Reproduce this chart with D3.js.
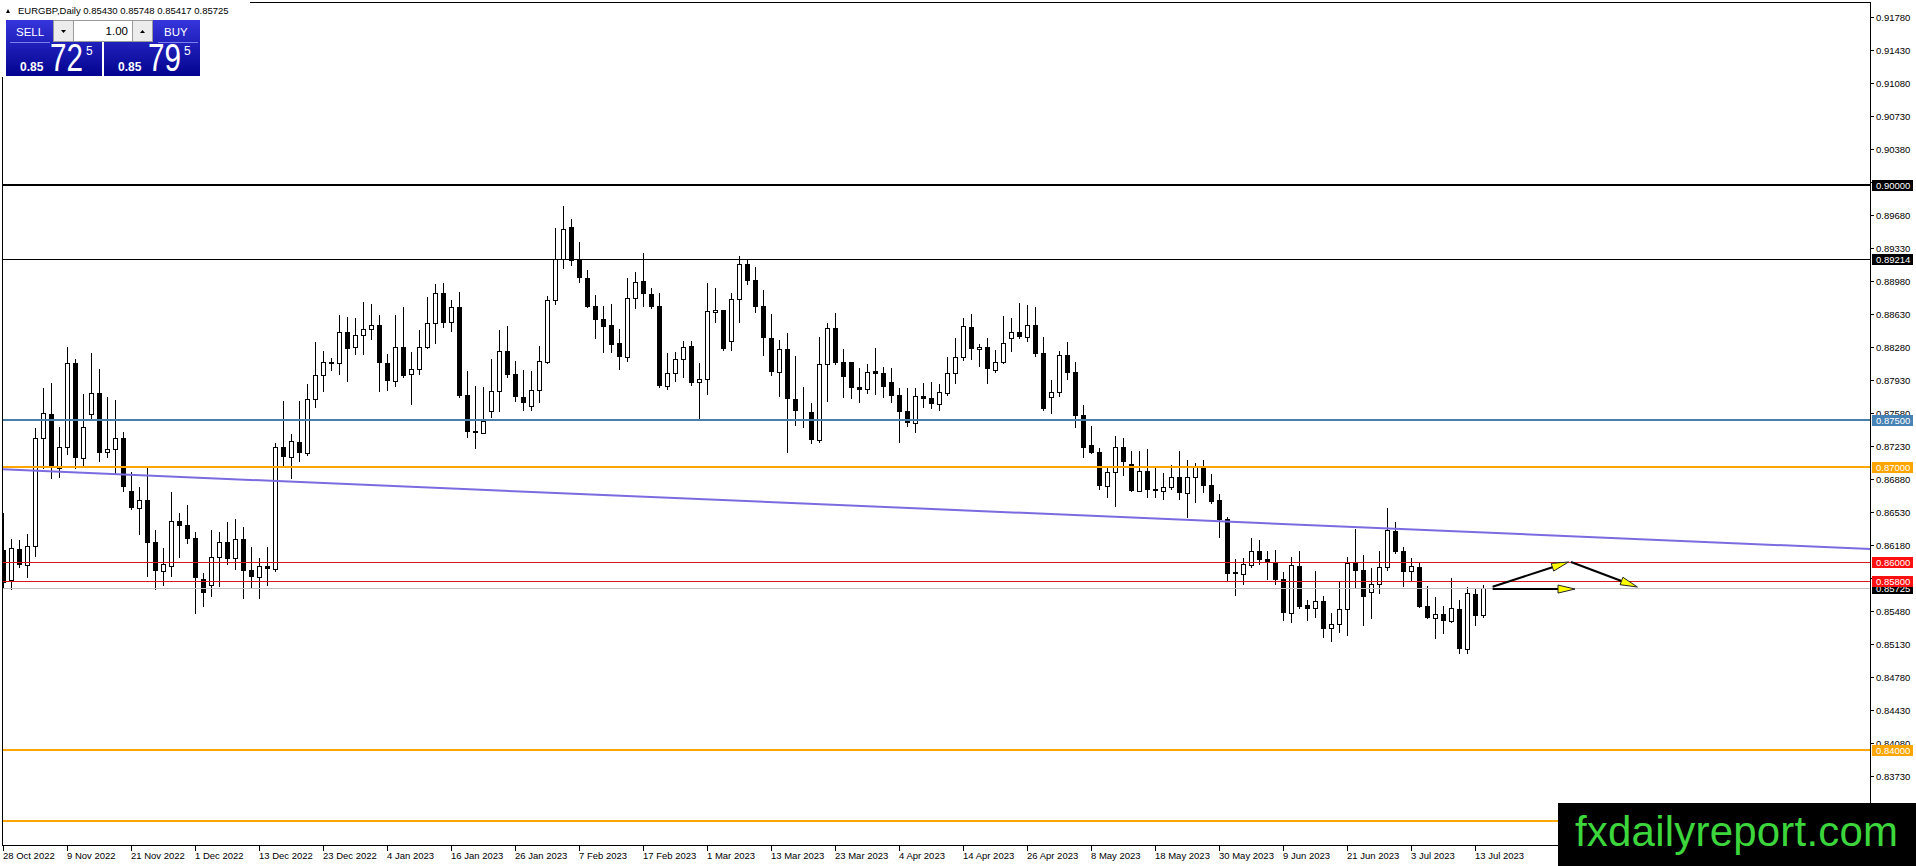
<!DOCTYPE html>
<html>
<head>
<meta charset="utf-8">
<script src="https://d3js.org/d3.v7.min.js"></script>
<style>
  body { margin: 0; background: #fff; }
  svg { display: block; font-family: "Liberation Sans", Arial, sans-serif; }
</style>
</head>
<body>
<svg id="canvas" width="1916" height="866"></svg>
<script>
// ************************************************************************************** //
// Data (EURGBP daily, 28 Oct 2022 .. 14 Jul 2023)

var symbol = 'EURGBP,Daily';

var open_ = [
  0.86124,0.85806,0.86131,0.85965,0.86166,0.87308,0.87563,0.86990,0.87220,0.88103,
  0.87103,0.87563,0.87785,0.87160,0.87195,0.87308,0.86749,0.86573,0.86654,0.86212,
  0.85905,0.85958,0.86432,0.86389,0.86248,0.85813,0.85753,0.86053,0.86205,0.86035,
  0.86237,0.85912,0.85841,0.85954,0.85919,0.87219,0.87106,0.87272,0.87149,0.87721,
  0.87976,0.88110,0.88103,0.88435,0.88273,0.88400,0.88471,0.88506,0.88103,0.87919,
  0.88280,0.87990,0.88040,0.88280,0.88527,0.88845,0.88545,0.88704,0.87767,0.87382,
  0.87368,0.87601,0.87813,0.88235,0.87987,0.87747,0.87655,0.87817,0.88115,0.88772,
  0.89207,0.89546,0.89203,0.89005,0.88712,0.88574,0.88510,0.88316,0.88174,0.88800,
  0.88977,0.88839,0.88712,0.87867,0.87998,0.88146,0.88288,0.87902,0.87934,0.88645,
  0.88670,0.88341,0.88783,0.89154,0.88985,0.88711,0.88368,0.88008,0.88255,0.87721,
  0.87605,0.87583,0.87290,0.88092,0.88474,0.88114,0.88114,0.87852,0.87827,0.88022,
  0.87997,0.87902,0.87767,0.87598,0.87474,0.87757,0.87732,0.87675,0.87792,0.87997,
  0.88174,0.88485,0.88252,0.88273,0.88033,0.88121,0.88368,0.88432,0.88379,0.88510,
  0.88209,0.87743,0.87796,0.88192,0.88008,0.87555,0.87237,0.87160,0.86806,0.86947,
  0.87213,0.87032,0.86753,0.86961,0.86767,0.86753,0.86788,0.86894,0.86725,0.86901,
  0.86997,0.86813,0.86654,0.86449,0.85887,0.85869,0.85965,0.86113,0.86025,0.85989,
  0.85813,0.85459,0.85954,0.85540,0.85505,0.85583,0.85293,0.85335,0.85498,0.85989,
  0.85912,0.85681,0.85760,0.85940,0.86329,0.86113,0.85905,0.85947,0.85530,0.85399,
  0.85441,0.85371,0.85495,0.85077,0.85654,0.85430
];
var high = [
  0.86513,0.86237,0.86230,0.86294,0.87414,0.87838,0.87898,0.87425,0.88280,0.88146,
  0.87778,0.88210,0.88040,0.87743,0.87715,0.87372,0.86955,0.86788,0.86997,0.86336,
  0.86142,0.86735,0.86513,0.86601,0.86318,0.85884,0.86336,0.86318,0.86417,0.86449,
  0.86371,0.86159,0.86035,0.86159,0.87262,0.87704,0.87354,0.87704,0.87884,0.88329,
  0.88237,0.88156,0.88616,0.88591,0.88580,0.88750,0.88732,0.88616,0.88202,0.88616,
  0.88697,0.88220,0.88457,0.88803,0.88944,0.88959,0.88775,0.88860,0.88022,0.87863,
  0.87856,0.88146,0.88457,0.88500,0.88129,0.88033,0.88023,0.88288,0.88818,0.89543,
  0.89772,0.89634,0.89394,0.89094,0.88829,0.88712,0.88733,0.88464,0.89005,0.89076,
  0.89270,0.88899,0.88846,0.88210,0.88228,0.88341,0.88341,0.88104,0.88952,0.88899,
  0.88670,0.88853,0.89242,0.89207,0.89125,0.88881,0.88626,0.88350,0.88421,0.88181,
  0.87856,0.87679,0.88379,0.88527,0.88640,0.88255,0.88114,0.88050,0.88096,0.88262,
  0.88061,0.88050,0.87838,0.87838,0.87838,0.87891,0.87902,0.87880,0.88174,0.88368,
  0.88580,0.88626,0.88308,0.88368,0.88245,0.88605,0.88580,0.88747,0.88722,0.88697,
  0.88379,0.87927,0.88238,0.88333,0.88121,0.87661,0.87439,0.87202,0.86990,0.87336,
  0.87308,0.87174,0.87174,0.87195,0.86990,0.86937,0.87025,0.87174,0.87078,0.87043,
  0.87078,0.86926,0.86714,0.86477,0.86025,0.86035,0.86247,0.86230,0.86113,0.86124,
  0.85894,0.86046,0.86113,0.85594,0.85901,0.85636,0.85459,0.85788,0.86053,0.86346,
  0.86071,0.85929,0.86113,0.86566,0.86417,0.86159,0.86035,0.85989,0.85742,0.85629,
  0.85530,0.85823,0.85594,0.85735,0.85724,0.85748
];
var low = [
  0.85717,0.85707,0.85940,0.85834,0.86064,0.86990,0.86891,0.86902,0.87142,0.86990,
  0.87008,0.87503,0.87071,0.87114,0.86937,0.86749,0.86559,0.86294,0.85848,0.85707,
  0.85753,0.85848,0.86053,0.86195,0.85459,0.85530,0.85636,0.85742,0.85972,0.85919,
  0.85611,0.85720,0.85611,0.85752,0.85904,0.87014,0.86891,0.87071,0.87131,0.87644,
  0.87813,0.88032,0.87990,0.87919,0.88202,0.88202,0.88365,0.87813,0.87820,0.87866,
  0.87955,0.87672,0.87990,0.88262,0.88315,0.88485,0.88450,0.87750,0.87325,0.87202,
  0.87361,0.87531,0.87601,0.87962,0.87704,0.87609,0.87609,0.87697,0.88104,0.88730,
  0.89111,0.89147,0.88963,0.88705,0.88369,0.88220,0.88220,0.88044,0.88132,0.88687,
  0.88715,0.88687,0.87856,0.87832,0.87920,0.87962,0.87874,0.87528,0.87775,0.88546,
  0.88245,0.88245,0.88546,0.88942,0.88645,0.88191,0.87979,0.87760,0.87166,0.87449,
  0.87431,0.87262,0.87272,0.87707,0.88096,0.87750,0.87739,0.87697,0.87785,0.87778,
  0.87750,0.87697,0.87272,0.87442,0.87371,0.87637,0.87626,0.87608,0.87767,0.87898,
  0.88139,0.88146,0.88075,0.87898,0.88008,0.88103,0.88238,0.88375,0.88344,0.88181,
  0.87608,0.87580,0.87760,0.87937,0.87432,0.87114,0.87149,0.86771,0.86689,0.86594,
  0.86919,0.86753,0.86753,0.86682,0.86689,0.86665,0.86767,0.86665,0.86470,0.86636,
  0.86742,0.86626,0.86265,0.85805,0.85646,0.85763,0.85940,0.85975,0.85813,0.85763,
  0.85381,0.85364,0.85505,0.85381,0.85417,0.85198,0.85162,0.85258,0.85222,0.85728,
  0.85328,0.85406,0.85664,0.85912,0.86088,0.85742,0.85795,0.85516,0.85399,0.85187,
  0.85240,0.85364,0.85028,0.85035,0.85328,0.85417
];
var close = [
  0.85771,0.86142,0.85965,0.86166,0.87308,0.87573,0.86990,0.87220,0.88103,0.87103,
  0.87432,0.87785,0.87156,0.87195,0.87308,0.86795,0.86573,0.86654,0.86202,0.85905,
  0.85972,0.86432,0.86382,0.86241,0.85824,0.85672,0.86053,0.86205,0.86028,0.86237,
  0.85905,0.85841,0.85954,0.85919,0.87219,0.87113,0.87283,0.87149,0.87721,0.87976,
  0.88114,0.88117,0.88435,0.88259,0.88400,0.88464,0.88506,0.88103,0.87919,0.88280,
  0.87969,0.88040,0.88280,0.88527,0.88845,0.88534,0.88704,0.87757,0.87378,0.87368,
  0.87495,0.87813,0.88237,0.87980,0.87743,0.87680,0.87821,0.88129,0.88772,0.89207,
  0.89528,0.89193,0.89005,0.88705,0.88563,0.88493,0.88298,0.88174,0.88793,0.88970,
  0.88836,0.88705,0.87863,0.87998,0.88150,0.88274,0.87899,0.87934,0.88659,0.88670,
  0.88256,0.88783,0.89154,0.88981,0.88705,0.88368,0.88008,0.88255,0.87721,0.87601,
  0.87610,0.87290,0.88092,0.88474,0.88103,0.87962,0.87845,0.87824,0.88015,0.87993,
  0.87856,0.87760,0.87590,0.87474,0.87757,0.87728,0.87675,0.87796,0.87997,0.88174,
  0.88503,0.88252,0.88273,0.88040,0.88121,0.88324,0.88432,0.88386,0.88510,0.88202,
  0.87619,0.87796,0.88192,0.88004,0.87545,0.87209,0.87156,0.86802,0.86947,0.87213,
  0.87060,0.86753,0.86961,0.86760,0.86753,0.86788,0.86894,0.86725,0.86894,0.87000,
  0.86802,0.86636,0.86442,0.85869,0.85869,0.85975,0.86113,0.86018,0.85982,0.85806,
  0.85459,0.85961,0.85523,0.85498,0.85583,0.85282,0.85335,0.85498,0.85989,0.85905,
  0.85629,0.85760,0.85940,0.86336,0.86106,0.85894,0.85954,0.85523,0.85399,0.85441,
  0.85374,0.85505,0.85077,0.85664,0.85427,0.85725
];

// one label every 8 bars
var date_labels = ['28 Oct 2022','9 Nov 2022','21 Nov 2022','1 Dec 2022','13 Dec 2022','23 Dec 2022',
  '4 Jan 2023','16 Jan 2023','26 Jan 2023','7 Feb 2023','17 Feb 2023','1 Mar 2023','13 Mar 2023',
  '23 Mar 2023','4 Apr 2023','14 Apr 2023','26 Apr 2023','8 May 2023','18 May 2023','30 May 2023',
  '9 Jun 2023','21 Jun 2023','3 Jul 2023','13 Jul 2023'];

var price_ticks = [0.91780,0.91430,0.91080,0.90730,0.90380,0.90030,0.89680,0.89330,0.88980,0.88630,
  0.88280,0.87930,0.87580,0.87230,0.86880,0.86530,0.86180,0.85830,0.85480,0.85130,0.84780,0.84430,
  0.84080,0.83730];

var level_prices = [0.90000, 0.89214, 0.87500, 0.87000, 0.86000, 0.85800, 0.84000, 0.83250];
var bid = 0.85725, ask = 0.85795;

// trend line and arrows as [bar index, price]
var trend_pts  = [[0, 0.86979], [185, 0.86310]];
var arrow_up   = [[186.2, 0.85735], [195.7, 0.85997]];
var arrow_down = [[196.0, 0.85997], [204.3, 0.85732]];
var arrow_flat = [[186.2, 0.85710], [196.5, 0.85710]];

// ************************************************************************************** //
// Scales and frame

var svg = d3.select('#canvas');
var left = 2.5, top_ = 2.5, right = 1870.5, bottom = 845.5;

var x = d3.scaleLinear().domain([0, 185]).range([3, 1483]);
var y = d3.scaleLinear().domain([0.84, 0.90]).range([750.3, 184.5]);

var level_line = ['#000000','#000000','#4a7fa8','#ffa500','#d81818','#d81818','#ffa500','#ffa500'];
var level_box  = ['#000000','#000000','#4682b4','#ffa500','#ff1010','#ff1010','#ffa500','#ffa500'];
var level_w    = [2, 1, 2, 2, 1, 1, 2, 2];

svg.append('defs').append('clipPath').attr('id', 'plot')
  .append('rect').attr('x', left).attr('y', top_).attr('width', right - left).attr('height', bottom - top_);

var plot = svg.append('g').attr('clip-path', 'url(#plot)');

// ************************************************************************************** //
// Candles

var candles = plot.append('g').attr('shape-rendering', 'crispEdges');
for (var i = 0; i < close.length; i++) {
  var xi = Math.round(x(i));
  var o = open_[i], c = close[i];
  var t = Math.round(y(Math.max(o, c))), b = Math.round(y(Math.min(o, c)));
  candles.append('line').attr('x1', xi + 0.5).attr('x2', xi + 0.5)
    .attr('y1', Math.round(y(high[i]))).attr('y2', Math.round(y(low[i])) + 1)
    .attr('stroke', '#000').attr('stroke-width', 1);
  if (c >= o) {
    candles.append('rect').attr('x', xi - 1.5).attr('y', t + 0.5)
      .attr('width', 4).attr('height', Math.max(b - t, 0))
      .attr('fill', '#fff').attr('stroke', '#000').attr('stroke-width', 1);
  } else {
    candles.append('rect').attr('x', xi - 2).attr('y', t)
      .attr('width', 5).attr('height', Math.max(b - t, 1)).attr('fill', '#000');
  }
}

// ************************************************************************************** //
// Horizontal levels, bid line, trend line

plot.append('line').attr('x1', left).attr('x2', right)
  .attr('y1', Math.round(y(bid)) + 0.5).attr('y2', Math.round(y(bid)) + 0.5)
  .attr('stroke', '#c0c0c0').attr('stroke-width', 1);

level_prices.forEach(function(p, k){
  var yy = level_w[k] == 1 ? Math.round(y(p)) + 0.5 : Math.round(y(p));
  plot.append('line').attr('x1', left).attr('x2', right).attr('y1', yy).attr('y2', yy)
    .attr('stroke', level_line[k]).attr('stroke-width', level_w[k]).attr('shape-rendering', 'crispEdges');
});

var slope = (y(trend_pts[1][1]) - y(trend_pts[0][1])) / (x(trend_pts[1][0]) - x(trend_pts[0][0]));
var ty0 = y(trend_pts[0][1]) + (left - x(trend_pts[0][0])) * slope;
var ty1 = y(trend_pts[0][1]) + (right - x(trend_pts[0][0])) * slope;
plot.append('line').attr('x1', left).attr('y1', ty0).attr('x2', right).attr('y2', ty1)
  .attr('stroke', '#7b6be0').attr('stroke-width', 2);

// ************************************************************************************** //
// Arrowed lines

function draw_arrow(pts){
  var x0 = x(pts[0][0]), y0 = y(pts[0][1]), x1 = x(pts[1][0]), y1 = y(pts[1][1]);
  var len = Math.sqrt((x1 - x0) * (x1 - x0) + (y1 - y0) * (y1 - y0));
  var ux = (x1 - x0) / len, uy = (y1 - y0) / len;
  var bx = x1 - ux * 17, by = y1 - uy * 17;
  plot.append('line').attr('x1', x0).attr('y1', y0).attr('x2', bx).attr('y2', by)
    .attr('stroke', '#000').attr('stroke-width', 2);
  var tri = [[x1, y1], [bx - uy * 4, by + ux * 4], [bx + uy * 4, by - ux * 4]];
  plot.append('path').attr('d', d3.line()(tri) + 'Z')
    .attr('fill', '#ffff00').attr('stroke', '#222').attr('stroke-width', 1);
}
draw_arrow(arrow_up);
draw_arrow(arrow_down);
draw_arrow(arrow_flat);

// ************************************************************************************** //
// Frame and axes

var frame = svg.append('g').attr('shape-rendering', 'crispEdges');
frame.append('line').attr('x1', left).attr('x2', right).attr('y1', top_).attr('y2', top_).attr('stroke', '#000');
frame.append('line').attr('x1', left).attr('x2', left).attr('y1', top_).attr('y2', bottom).attr('stroke', '#000');
frame.append('line').attr('x1', right).attr('x2', right).attr('y1', top_).attr('y2', bottom).attr('stroke', '#000');
frame.append('line').attr('x1', left).attr('x2', right).attr('y1', bottom).attr('y2', bottom).attr('stroke', '#000');

var yaxis = svg.append('g').attr('font-size', '9.5px');
price_ticks.forEach(function(p){
  var yy = Math.round(y(p)) + 0.5;
  yaxis.append('line').attr('x1', right).attr('x2', right + 3).attr('y1', yy).attr('y2', yy)
    .attr('stroke', '#000').attr('shape-rendering', 'crispEdges');
  yaxis.append('text').attr('x', 1876).attr('y', yy + 3.5).attr('fill', '#000').text(p.toFixed(5));
});

var xaxis = svg.append('g').attr('font-size', '9.5px');
date_labels.forEach(function(d, k){
  var xi = Math.round(x(k * 8)) + 0.5;
  xaxis.append('line').attr('x1', xi).attr('x2', xi).attr('y1', bottom).attr('y2', bottom + 5)
    .attr('stroke', '#000').attr('shape-rendering', 'crispEdges');
  xaxis.append('text').attr('x', xi - 0.5).attr('y', 859).attr('fill', '#000').text(d);
});

// price labels of the lines on the right scale
function price_box(p, bg){
  var yy = Math.round(y(p));
  yaxis.append('rect').attr('x', 1872).attr('y', yy - 5).attr('width', 41).attr('height', 11)
    .attr('fill', bg).attr('shape-rendering', 'crispEdges');
  yaxis.append('text').attr('x', 1876).attr('y', yy + 4).attr('fill', '#fff').text(p.toFixed(5));
}
price_box(bid, '#000');
level_prices.forEach(function(p, k){ price_box(p, level_box[k]); });

// ************************************************************************************** //
// Header and one-click trading panel

svg.append('rect').attr('x', 0).attr('y', 0).attr('width', 250).attr('height', 77).attr('fill', '#fff');
svg.append('path').attr('d', 'M6,13 L8,9 L10,13 Z').attr('fill', '#000');
svg.append('text').attr('x', 18).attr('y', 14).attr('font-size', '9.5px').attr('fill', '#000')
  .text(symbol + '  ' + [open_[185], high[185], low[185], close[185]].map(function(v){ return v.toFixed(5); }).join(' '));

var grad = svg.select('defs').append('linearGradient').attr('id', 'btn').attr('x1', 0).attr('x2', 0).attr('y1', 0).attr('y2', 1);
grad.append('stop').attr('offset', 0).attr('stop-color', '#3535dc');
grad.append('stop').attr('offset', 1).attr('stop-color', '#03038e');

function trade_button(x0, label, price, lx){
  var s = price.toFixed(5);
  svg.append('rect').attr('x', x0).attr('y', 20).attr('width', 96).attr('height', 56).attr('fill', 'url(#btn)');
  svg.append('line').attr('x1', lx - 6).attr('x2', lx + 34).attr('y1', 42.5).attr('y2', 42.5)
    .attr('stroke', '#7d7df0').attr('stroke-width', 1);
  svg.append('text').attr('x', lx).attr('y', 35.5).attr('font-size', '11.5px').attr('fill', '#fff').text(label);
  svg.append('text').attr('x', x0 + 14).attr('y', 70.5).attr('font-size', '12px').attr('font-weight', 'bold')
    .attr('fill', '#fff').text(s.slice(0, 4));
  svg.append('text').attr('transform', 'translate(' + (x0 + 44) + ',71) scale(0.78,1)')
    .attr('font-size', '38px').attr('fill', '#fff').text(s.slice(4, 6));
  svg.append('text').attr('x', x0 + 80).attr('y', 55).attr('font-size', '12px').attr('fill', '#fff').text(s.slice(6));
}
trade_button(6, 'SELL', bid, 16);
trade_button(104, 'BUY', ask, 164);

var lot = svg.append('g');
lot.append('rect').attr('x', 53.5).attr('y', 20.5).attr('width', 99).attr('height', 21)
  .attr('fill', '#fff').attr('stroke', '#9a9a9a');
lot.append('rect').attr('x', 53.5).attr('y', 20.5).attr('width', 20).attr('height', 21)
  .attr('fill', '#ececec').attr('stroke', '#9a9a9a');
lot.append('rect').attr('x', 132.5).attr('y', 20.5).attr('width', 20).attr('height', 21)
  .attr('fill', '#ececec').attr('stroke', '#9a9a9a');
lot.append('path').attr('d', 'M61,30 L66,30 L63.5,33 Z').attr('fill', '#000');
lot.append('path').attr('d', 'M140,33 L145,33 L142.5,30 Z').attr('fill', '#000');
lot.append('text').attr('x', 128).attr('y', 35).attr('text-anchor', 'end').attr('font-size', '11.5px')
  .attr('fill', '#000').text('1.00');

// ************************************************************************************** //
// Watermark

svg.append('rect').attr('x', 1558).attr('y', 803).attr('width', 358).attr('height', 63).attr('fill', '#000');
svg.append('text').attr('x', 1575).attr('y', 846).attr('font-size', '42px').attr('fill', '#3cd63c')
  .attr('textLength', 323).text('fxdailyreport.com');
</script>
</body>
</html>
